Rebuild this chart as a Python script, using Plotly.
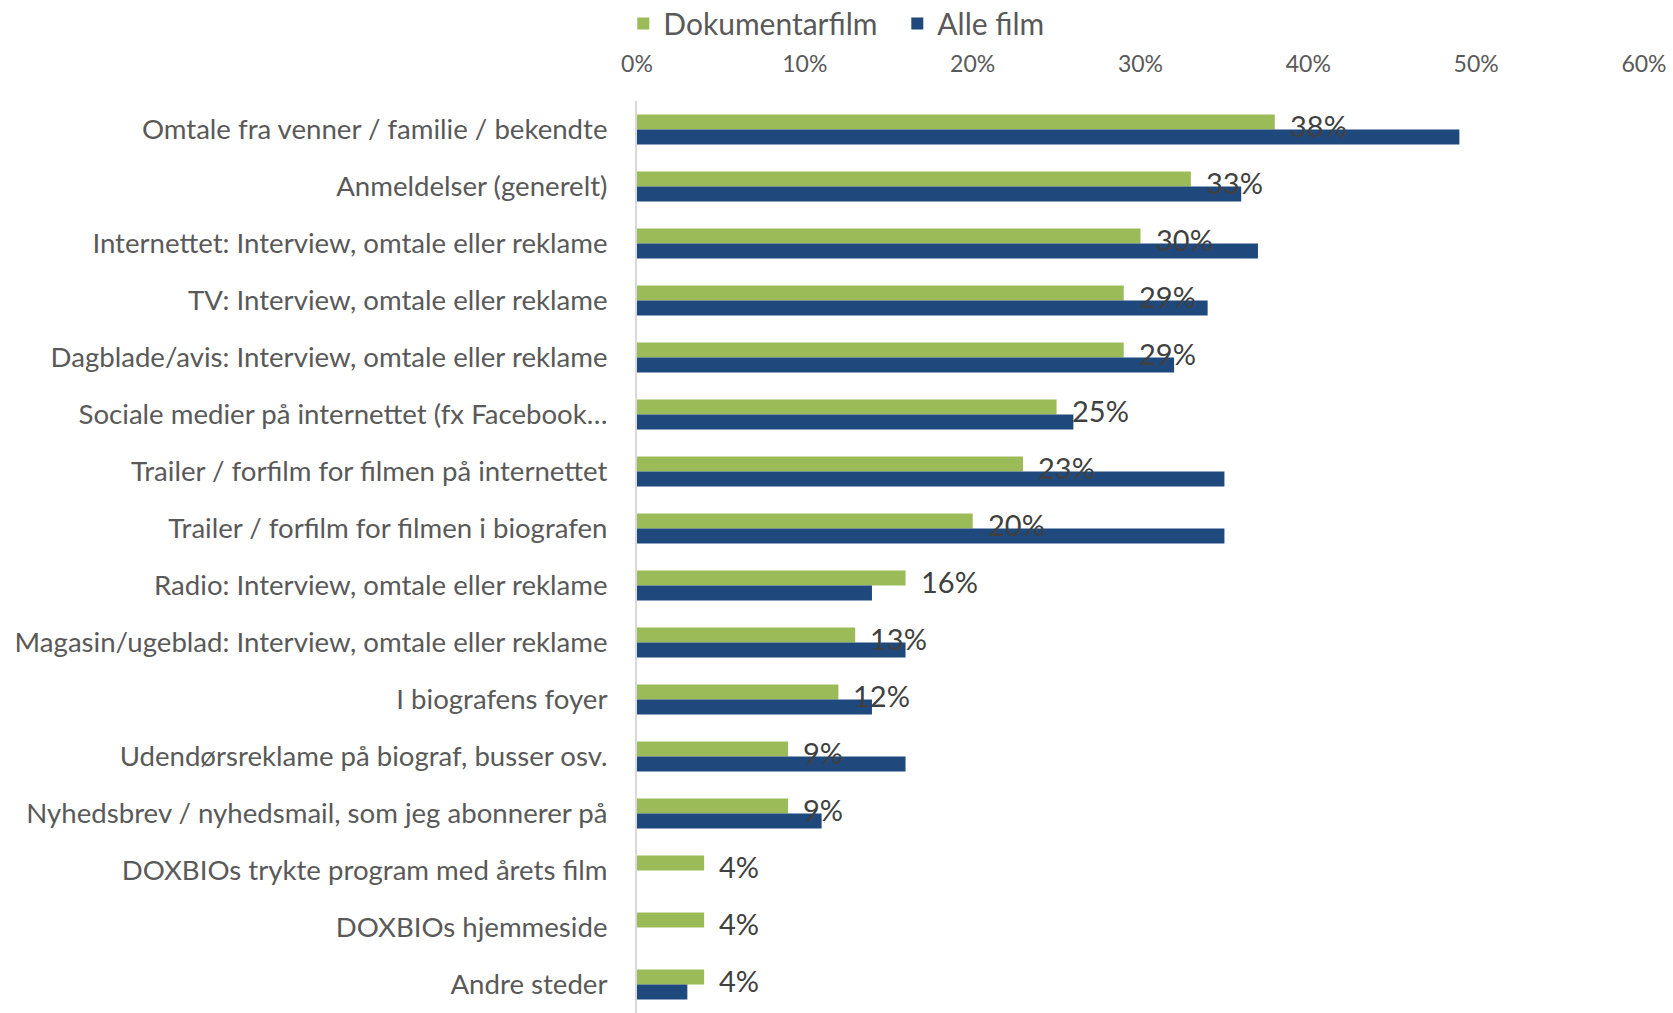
import plotly.graph_objects as go

# Survey: where respondents heard about the films (share of respondents, %)
categories = [
    "Omtale fra venner / familie / bekendte",
    "Anmeldelser (generelt)",
    "Internettet: Interview, omtale eller reklame",
    "TV: Interview, omtale eller reklame",
    "Dagblade/avis: Interview, omtale eller reklame",
    "Sociale medier på internettet (fx Facebook…",
    "Trailer / forfilm for filmen på internettet",
    "Trailer / forfilm for filmen i biografen",
    "Radio: Interview, omtale eller reklame",
    "Magasin/ugeblad: Interview, omtale eller reklame",
    "I biografens foyer",
    "Udendørsreklame på biograf, busser osv.",
    "Nyhedsbrev / nyhedsmail, som jeg abonnerer på",
    "DOXBIOs trykte program med årets film",
    "DOXBIOs hjemmeside",
    "Andre steder",
]
dokumentarfilm = [38, 33, 30, 29, 29, 25, 23, 20, 16, 13, 12, 9, 9, 4, 4, 4]
alle_film = [49, 36, 37, 34, 32, 26, 35, 35, 14, 16, 14, 16, 11, None, None, 3]
x_ticks = [0, 10, 20, 30, 40, 50, 60]

GREEN = "#9BBB59"
BLUE = "#1F497D"
FONT = "Lato"

fig = go.Figure()
for name, vals, col in [("Dokumentarfilm", dokumentarfilm, GREEN),
                        ("Alle film", alle_film, BLUE)]:
    fig.add_trace(go.Bar(
        y=categories, x=vals, orientation="h", name=name,
        marker=dict(color=col, line=dict(width=0)),
    ))

# value labels for the documentary series
for cat, val in zip(categories, dokumentarfilm):
    fig.add_annotation(
        x=val, y=cat, text=f"{val}%", showarrow=False,
        xanchor="left", yanchor="middle", xshift=13, yshift=4,
        font=dict(family=FONT, size=29, color="#404040"),
    )

fig.update_layout(
    width=1673, height=1013,
    margin=dict(l=637, r=29, t=101, b=0, autoexpand=False),
    paper_bgcolor="white", plot_bgcolor="white",
    barmode="group", bargap=0.47, bargroupgap=0,
    font=dict(family=FONT, color="#595959"),
    legend=dict(
        orientation="h", x=-0.0136, xanchor="left", y=1.085, yanchor="middle",
        font=dict(family=FONT, size=30, color="#595959"),
        itemwidth=30, traceorder="normal",
        entrywidth=229, entrywidthmode="pixels",
    ),
    xaxis=dict(
        side="top", range=[0, 60], tickvals=x_ticks,
        ticktext=[f"{v}%" for v in x_ticks],
        showgrid=False, zeroline=False, showline=False, ticks="",
        tickfont=dict(family=FONT, size=23, color="#595959"),
        ticklabelstandoff=23,
    ),
    yaxis=dict(
        autorange="reversed", showgrid=False, zeroline=False,
        showline=True, linecolor="#D9D9D9", linewidth=2, ticks="",
        tickfont=dict(family=FONT, size=27.6, color="#595959"),
        ticklabelstandoff=22,
    ),
)

fig.write_html("out.html")
